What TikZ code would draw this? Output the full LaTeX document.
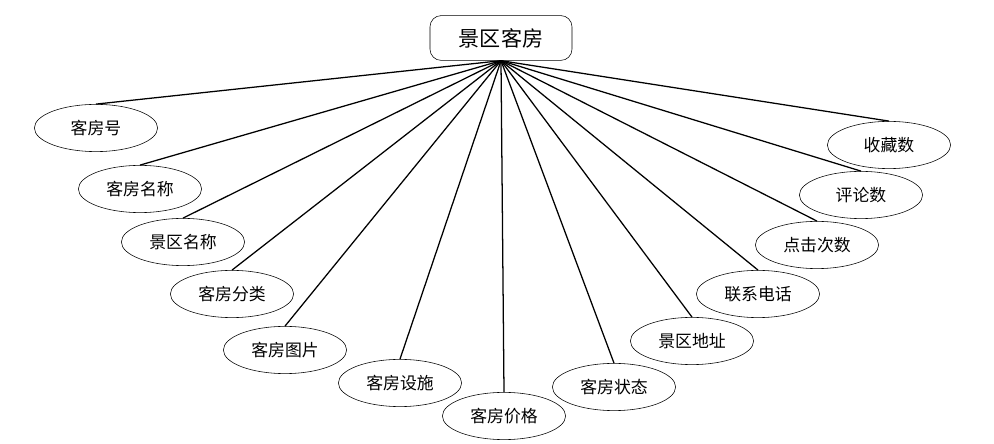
\documentclass[tikz,border=0pt]{standalone}
\usepackage{fontspec}
\setmainfont{Noto Sans CJK SC}
\usetikzlibrary{shapes.geometric}

\begin{document}
\begin{tikzpicture}[x=0.025cm,y=-0.025cm]
    \tikzset{entity/.style={draw,rounded corners=8pt,minimum width=3.55cm,minimum height=1.12cm,font=\fontsize{15}{18}\selectfont},
      attr/.style={draw,ellipse,minimum width=3.08cm,minimum height=1.18cm,inner sep=0pt,font=\fontsize{12}{14}\selectfont},
      link/.style={line width=0.9pt}}
    \useasboundingbox (0,0) rectangle (994,444);
    \node[entity] (room) at (501,38) {景区客房};
    \coordinate (hub) at (room.south);
    \node[attr] (no) at (96,128) {客房号};
    \node[attr] (name) at (140,189) {客房名称};
    \node[attr] (spot) at (183,242) {景区名称};
    \node[attr] (kind) at (232,294) {客房分类};
    \node[attr] (pic) at (285,350) {客房图片};
    \node[attr] (fac) at (400,383) {客房设施};
    \node[attr] (price) at (504,416) {客房价格};
    \node[attr] (state) at (614,387) {客房状态};
    \node[attr] (addr) at (692,341) {景区地址};
    \node[attr] (tel) at (758,294) {联系电话};
    \node[attr] (hits) at (817,245) {点击次数};
    \node[attr] (rev) at (861,195) {评论数};
    \node[attr] (fav) at (889,145) {收藏数};
    \foreach \a in {no,name,spot,kind,pic,fac,price,state,addr,tel,hits,rev,fav}
      \draw[link] (hub) -- (\a.north);
  \end{tikzpicture}
\end{document}
